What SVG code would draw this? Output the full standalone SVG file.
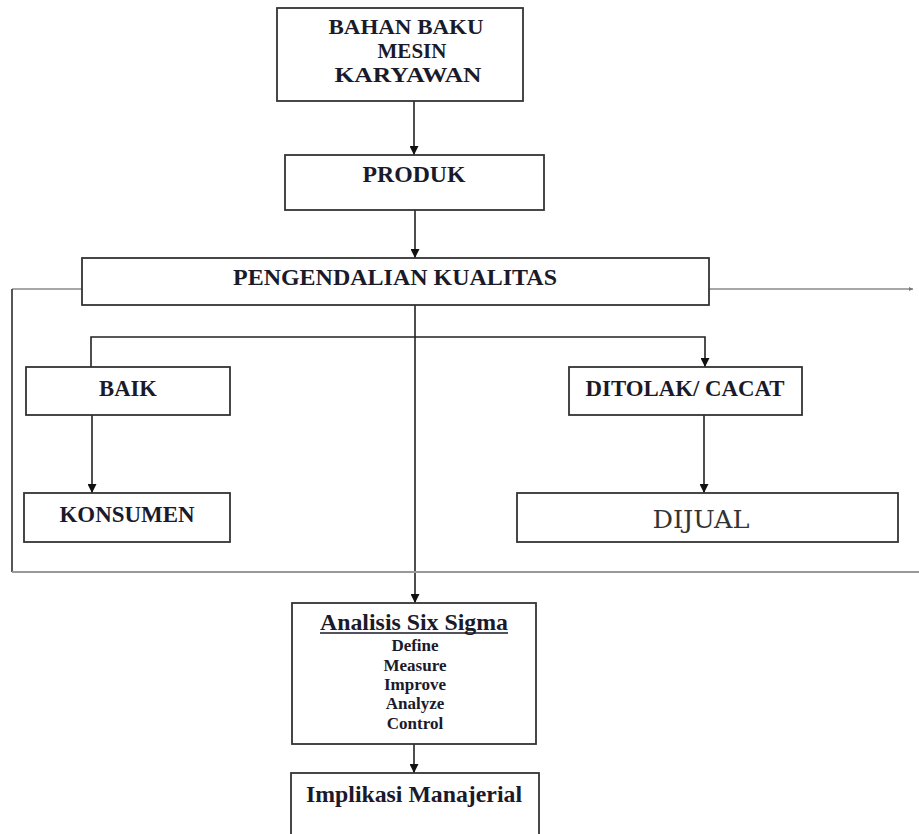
<svg xmlns="http://www.w3.org/2000/svg" width="919" height="834" viewBox="0 0 919 834">
<style>
.box{fill:#fff;stroke:#333;stroke-width:1.8}
.t{font-family:"Liberation Serif","Times New Roman",serif;font-weight:bold;fill:#1a1a2a;text-anchor:middle}
.h{font-size:23px}
.m{font-size:21px}
.s{font-size:17px}
.c{fill:none;stroke:#222;stroke-width:1.6}
.g{fill:none;stroke:#8a8a8a;stroke-width:1.6}
.g2{fill:none;stroke:#444;stroke-width:1.8}
</style>
<defs>
<marker id="ah" viewBox="0 0 10 10" refX="10" refY="5" markerWidth="9" markerHeight="9" markerUnits="userSpaceOnUse" orient="auto">
<path d="M0,0 L10,5 L0,10 z" fill="#111"/>
</marker>
<marker id="dot" viewBox="0 0 10 10" refX="10" refY="5" markerWidth="4" markerHeight="4" markerUnits="userSpaceOnUse" orient="auto">
<path d="M0,0 L10,5 L0,10 z" fill="#777"/>
</marker>
</defs>
<rect width="919" height="834" fill="#fff"/>
<g id="connectors">
<path class="c" d="M414,101 V155" marker-end="url(#ah)"/>
<path class="c" d="M415,210 V258" marker-end="url(#ah)"/>
<path class="c" d="M415,305 V603" marker-end="url(#ah)"/>
<path class="c" d="M91,367 V337 H705 V367" marker-start="url(#ah)" marker-end="url(#ah)"/>
<path class="c" d="M92,415 V493" marker-end="url(#ah)"/>
<path class="c" d="M704,415 V493" marker-end="url(#ah)"/>
<path class="c" d="M414,744 V773" marker-end="url(#ah)"/>
<path class="g" d="M82,289 H12"/>
<path class="g2" d="M12,289 V572"/>
<path class="g" style="stroke:#999;stroke-width:2" d="M12,572 H919"/>
<path class="g" d="M709,289 H913" marker-end="url(#dot)"/>
</g>
<g id="n-bahan">
<rect class="box" x="277" y="8" width="246" height="93"/>
<text class="t m" x="406" y="34" textLength="155" lengthAdjust="spacingAndGlyphs">BAHAN BAKU</text>
<text class="t m" x="412" y="58" textLength="69" lengthAdjust="spacingAndGlyphs">MESIN</text>
<text class="t m" x="408" y="82" textLength="147" lengthAdjust="spacingAndGlyphs">KARYAWAN</text>
</g>
<g id="n-produk">
<rect class="box" x="285" y="155" width="259" height="55"/>
<text class="t h" x="414" y="182" textLength="103" lengthAdjust="spacingAndGlyphs">PRODUK</text>
</g>
<g id="n-pengendalian">
<rect class="box" x="82" y="258" width="627" height="47"/>
<text class="t h" x="395" y="285" textLength="324" lengthAdjust="spacingAndGlyphs">PENGENDALIAN KUALITAS</text>
</g>
<g id="n-baik">
<rect class="box" x="26" y="367" width="204" height="48"/>
<text class="t h" x="128" y="396" textLength="58" lengthAdjust="spacingAndGlyphs">BAIK</text>
</g>
<g id="n-ditolak">
<rect class="box" x="569" y="367" width="233" height="48"/>
<text class="t h" x="685" y="396" textLength="199" lengthAdjust="spacingAndGlyphs">DITOLAK/ CACAT</text>
</g>
<g id="n-konsumen">
<rect class="box" x="24" y="493" width="206" height="49"/>
<text class="t h" x="127" y="522" textLength="135" lengthAdjust="spacingAndGlyphs">KONSUMEN</text>
</g>
<g id="n-dijual">
<rect class="box" x="517" y="493" width="381" height="49"/>
<text x="701" y="528" font-family="'DejaVu Serif',serif" font-size="24" fill="#333" text-anchor="middle" textLength="97" lengthAdjust="spacingAndGlyphs">DIJUAL</text>
</g>
<g id="n-analisis">
<rect class="box" x="292" y="603" width="244" height="141"/>
<text class="t h" x="414" y="630" textLength="188" lengthAdjust="spacingAndGlyphs">Analisis Six Sigma</text>
<line x1="320" y1="633" x2="508" y2="633" stroke="#1a1a2a" stroke-width="1.4"/>
<text class="t s" x="415" y="651">Define</text>
<text class="t s" x="415" y="671">Measure</text>
<text class="t s" x="415" y="690">Improve</text>
<text class="t s" x="415" y="709">Analyze</text>
<text class="t s" x="415" y="729">Control</text>
</g>
<g id="n-implikasi">
<rect class="box" x="291" y="773" width="248" height="80"/>
<text class="t h" x="414" y="802" textLength="216" lengthAdjust="spacingAndGlyphs">Implikasi Manajerial</text>
</g>
</svg>
